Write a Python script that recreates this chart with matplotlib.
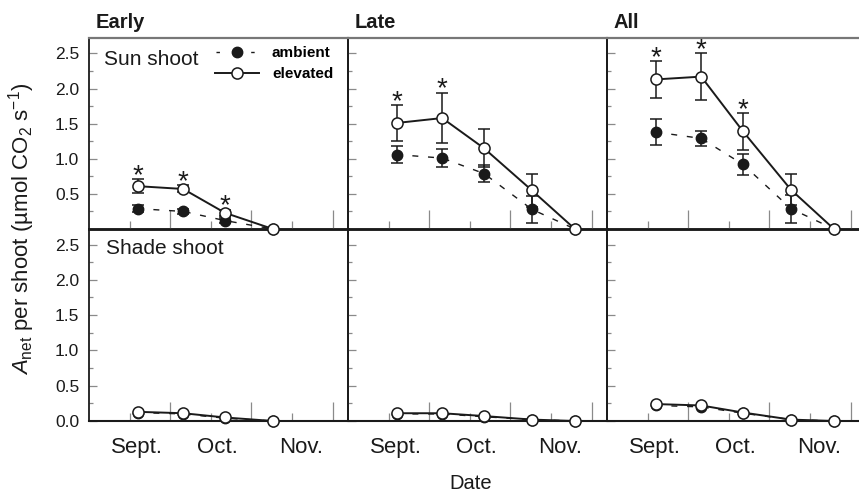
import matplotlib
matplotlib.use('Agg')
import matplotlib.pyplot as plt
from matplotlib.lines import Line2D

plt.rcParams['font.family'] = ['Liberation Sans', 'DejaVu Sans']
plt.rcParams['mathtext.fontset'] = 'custom'
plt.rcParams['mathtext.rm'] = 'Liberation Sans'
plt.rcParams['mathtext.it'] = 'Liberation Sans:italic'
plt.rcParams['lines.scale_dashes'] = False

# ---------------- data ----------------
groups = ['Early', 'Late', 'All']
dates = [1.2, 2.32, 3.35, 4.53, 5.59]          # sampling dates (half-month units)
month_labels = ['Sept.', 'Oct.', 'Nov.']
month_label_pos = [1.18, 3.16, 5.22]

sun_elev_early = [0.61, 0.57, 0.23, 0.0]
sun_elev_early_err = [0.10, 0.05, 0.04, 0.0]
sun_amb_early = [0.29, 0.25, 0.12, 0.0]
sun_amb_early_err = [0.05, 0.03, 0.03, 0.0]
stars_early = [0, 1, 2]

sun_elev_late = [1.51, 1.58, 1.15, 0.55, 0.0]
sun_elev_late_err = [0.25, 0.36, 0.27, 0.23, 0.0]
sun_amb_late = [1.06, 1.01, 0.79, 0.28, 0.0]
sun_amb_late_err = [0.12, 0.13, 0.12, 0.19, 0.0]
stars_late = [0, 1]

sun_elev_all = [2.13, 2.17, 1.39, 0.56, 0.0]
sun_elev_all_err = [0.26, 0.33, 0.26, 0.22, 0.0]
sun_amb_all = [1.38, 1.29, 0.92, 0.29, 0.0]
sun_amb_all_err = [0.19, 0.11, 0.15, 0.20, 0.0]
stars_all = [0, 1, 2]

shade_elev_early = [0.13, 0.11, 0.05, 0.0]
shade_amb_early = [0.12, 0.10, 0.04, 0.0]
shade_elev_late = [0.11, 0.11, 0.07, 0.02, 0.0]
shade_amb_late = [0.10, 0.10, 0.06, 0.02, 0.0]
shade_elev_all = [0.24, 0.22, 0.12, 0.02, 0.0]
shade_amb_all = [0.22, 0.20, 0.11, 0.02, 0.0]

yticks_major = [0.0, 0.5, 1.0, 1.5, 2.0, 2.5]
yticks_minor = [0.25, 0.75, 1.25, 1.75, 2.25]
xticks_major = [2, 4, 6]
xticks_minor = [1, 3, 5]

sun = [
    (sun_elev_early, sun_elev_early_err, sun_amb_early, sun_amb_early_err, stars_early),
    (sun_elev_late, sun_elev_late_err, sun_amb_late, sun_amb_late_err, stars_late),
    (sun_elev_all, sun_elev_all_err, sun_amb_all, sun_amb_all_err, stars_all),
]
shade = [
    (shade_elev_early, shade_amb_early),
    (shade_elev_late, shade_amb_late),
    (shade_elev_all, shade_amb_all),
]

# ---------------- layout ----------------
W, H = 859, 494
fig = plt.figure(figsize=(W / 100, H / 100), dpi=100)
lefts = [89, 348, 607]
pw = 259
INK = '#1a1a1a'
TICKC = '#8a8a8a'


def style(ax, row, col):
    ax.patch.set_visible(False)
    ax.set_xlim(0, 6.38)
    ax.set_ylim(0, 2.72)
    for s in ax.spines.values():
        s.set_color(INK)
        s.set_linewidth(1.3)
    if row == 0:
        ax.spines['top'].set_color('#777777')
        ax.spines['top'].set_linewidth(1.6)
        ax.spines['bottom'].set_linewidth(1.8)
    else:
        ax.spines['top'].set_linewidth(1.8)
        ax.spines['bottom'].set_linewidth(1.5)
    ax.set_xticks(xticks_major)
    ax.set_xticks(xticks_minor, minor=True)
    ax.set_xticklabels([])
    ax.set_yticks(yticks_major)
    ax.set_yticks(yticks_minor, minor=True)
    ax.tick_params(axis='x', which='major', direction='in', length=14, width=0.9, color=TICKC)
    ax.tick_params(axis='x', which='minor', direction='in', length=6, width=0.9, color=TICKC)
    ax.tick_params(axis='y', which='major', direction='in', length=5.8, width=0.9,
                   color=TICKC, pad=7, labelsize=12.5, labelcolor=INK)
    ax.tick_params(axis='y', which='minor', direction='in', length=3, width=0.9, color=TICKC)
    if col == 0:
        labels = ['%.1f' % v for v in yticks_major]
        if row == 0:
            labels[0] = ''
        ax.set_yticklabels(labels)
    else:
        ax.set_yticklabels([])


def draw(ax, elev, amb, elev_err=None, amb_err=None, stars=()):
    x = dates[:len(elev)]
    if amb_err is not None:
        ax.errorbar(x, amb, yerr=amb_err, fmt='none', ecolor=INK, elinewidth=1.1,
                    capsize=4.3, capthick=1.1, zorder=2)
    amb_line, = ax.plot(x, amb, color=INK, lw=1.0, ls=(0, (4.3, 7.0)), marker='o', ms=7.5,
                        mfc=INK, mec=INK, clip_on=False, zorder=3)
    if elev_err is not None:
        ax.errorbar(x, elev, yerr=elev_err, fmt='none', ecolor=INK, elinewidth=1.1,
                    capsize=4.3, capthick=1.1, zorder=4)
    elev_line, = ax.plot(x, elev, color=INK, lw=1.4, marker='o', ms=8, mfc='white',
                         mec=INK, mew=1.1, clip_on=False, zorder=5)
    for i in stars:
        top = elev[i] + (elev_err[i] if elev_err is not None else 0)
        ax.annotate('*', xy=(x[i], top), xytext=(0, -2.6), textcoords='offset points',
                    ha='center', va='baseline', fontsize=20, color=INK)
    return amb_line, elev_line


for col in range(3):
    l = lefts[col]
    ax_t = fig.add_axes([l / W, 1 - 229 / H, pw / W, 191 / H])
    ax_b = fig.add_axes([l / W, 1 - 421 / H, pw / W, 192 / H])
    ax_t.set_zorder(2)
    ax_b.set_zorder(1)
    style(ax_t, 0, col)
    style(ax_b, 1, col)
    e, ee, a, ae, st = sun[col]
    draw(ax_t, e, a, ee, ae, st)
    se, sa = shade[col]
    draw(ax_b, se, sa)

    ax_t.annotate(groups[col], xy=(0, 1), xycoords='axes fraction', xytext=(4.5, 7.3),
                  textcoords='offset points', ha='left', va='baseline', fontsize=14.5,
                  fontweight='bold', color=INK)
    for lbl, pos in zip(month_labels, month_label_pos):
        ax_b.annotate(lbl, xy=(pos, 0), xycoords=('data', 'axes fraction'),
                      xytext=(0, -11.5), textcoords='offset points', ha='center', va='top',
                      fontsize=16, color=INK)

    if col == 0:
        ax_t.annotate('Sun shoot', xy=(0, 1), xycoords='axes fraction', xytext=(10.8, -19.4),
                      textcoords='offset points', ha='left', va='baseline', fontsize=15,
                      color=INK)
        ax_b.annotate('Shade shoot', xy=(0, 1), xycoords='axes fraction', xytext=(12, -18),
                      textcoords='offset points', ha='left', va='baseline', fontsize=15,
                      color=INK)
        h_amb = Line2D([], [], color=INK, lw=1.0, ls=(24.3, (2.5, 22.5)), marker='o', ms=7.5,
                       mfc=INK, mec=INK)
        h_elev = Line2D([], [], color=INK, lw=1.4, marker='o', ms=8, mfc='white', mec=INK,
                        mew=1.1)
        ax_t.legend([h_amb, h_elev], ['ambient', 'elevated'], loc='upper left',
                    bbox_to_anchor=(126 / pw, 1 - 8 / 191), frameon=False, borderpad=0,
                    borderaxespad=0, handlelength=2.88, handletextpad=0.85,
                    labelspacing=0.45, prop={'weight': 'bold', 'size': 11})

fig.text(22 / W, 1 - 229 / H, r'$\mathit{A}_{\mathrm{net}}$ per shoot (µmol CO$_2$ s$^{-1}$)',
         rotation=90, ha='center', va='center', fontsize=16, color=INK)
fig.text(471 / W, 1 - 489 / H, 'Date', ha='center', va='baseline', fontsize=14.5, color=INK)

fig.savefig('out.png', dpi=100)
